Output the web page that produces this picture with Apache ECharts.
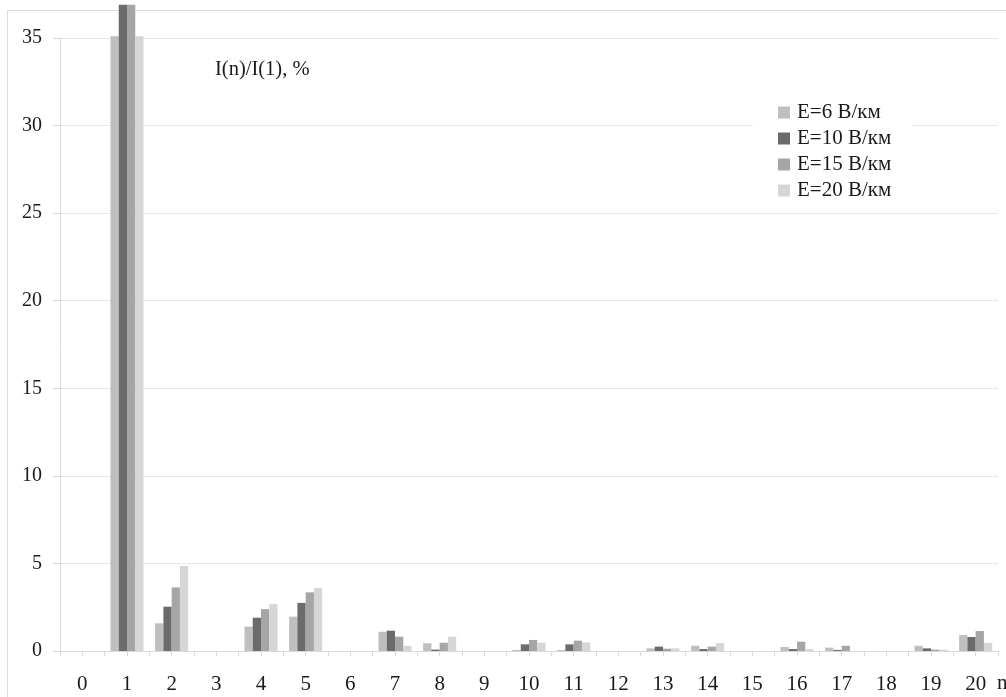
<!DOCTYPE html>
<html>
<head>
<meta charset="utf-8">
<script src="https://cdn.jsdelivr.net/npm/echarts@6/dist/echarts.min.js"></script>
<style>
html,body{margin:0;padding:0;background:#fff;}
#c{width:1006px;height:697px;}
</style>
</head>
<body>
<div id="c"></div>
<script>
const categories = ['0','1','2','3','4','5','6','7','8','9','10','11','12','13','14','15','16','17','18','19','20'];
const seriesNames = ['E=6 В/км','E=10 В/км','E=15 В/км','E=20 В/км'];
const e6  = [0, 35.1, 1.58, 0, 1.39, 1.96, 0, 1.10, 0.44, 0, 0.06, 0.06, 0, 0.15, 0.30, 0, 0.23, 0.19, 0, 0.30, 0.91];
const e10 = [0, 36.9, 2.53, 0, 1.90, 2.75, 0, 1.16, 0.08, 0, 0.38, 0.38, 0, 0.25, 0.11, 0, 0.11, 0.06, 0, 0.15, 0.80];
const e15 = [0, 36.9, 3.63, 0, 2.39, 3.35, 0, 0.82, 0.47, 0, 0.63, 0.59, 0, 0.13, 0.25, 0, 0.53, 0.30, 0, 0.08, 1.14];
const e20 = [0, 35.1, 4.85, 0, 2.68, 3.59, 0, 0.30, 0.82, 0, 0.47, 0.49, 0, 0.15, 0.45, 0, 0.11, 0.00, 0, 0.08, 0.46];
const yTicks = [0, 5, 10, 15, 20, 25, 30, 35];
const yLabel = 'I(n)/I(1), %';
const xName = 'n';

const colors = ['#bfbfbf', '#6b6b6b', '#a6a6a6', '#d6d6d6'];
const font = "'Liberation Serif', 'Times New Roman', serif";
const allData = [e6, e10, e15, e20];

const chart = echarts.init(document.getElementById('c'), null, {renderer: 'canvas'});
chart.setOption({
  animation: false,
  backgroundColor: '#ffffff',
  color: colors,
  textStyle: {fontFamily: font},
  grid: {left: 60, right: 8, top: 38, bottom: 46, containLabel: false},
  legend: {
    orient: 'vertical',
    left: 753, top: 95,
    padding: [7, 20, 7, 25],
    backgroundColor: '#ffffff',
    itemWidth: 12, itemHeight: 12, itemGap: 5,
    icon: 'rect',
    textStyle: {fontFamily: font, fontSize: 21, color: '#1a1a1a', lineHeight: 21, padding: [0,0,0,2]},
    data: seriesNames
  },
  xAxis: [{
    type: 'category',
    data: categories,
    position: 'bottom',
    axisLine: {lineStyle: {color: '#d9d9d9', width: 1}},
    axisTick: {show: true, alignWithLabel: false, length: 5, lineStyle: {color: '#d9d9d9'}},
    axisLabel: {fontFamily: font, fontSize: 21, color: '#1a1a1a', margin: 23, interval: 0},
    splitLine: {show: false}
  }, {
    type: 'category',
    data: categories,
    position: 'bottom',
    axisLine: {show: false},
    axisTick: {show: true, alignWithLabel: true, length: 5, interval: 0, lineStyle: {color: '#d9d9d9'}},
    axisLabel: {show: false},
    splitLine: {show: false}
  }],
  yAxis: {
    type: 'value',
    min: yTicks[0], max: yTicks[yTicks.length - 1], interval: 5,
    axisLine: {show: true, lineStyle: {color: '#d9d9d9'}},
    axisTick: {show: true, length: 7, lineStyle: {color: '#d9d9d9'}},
    axisLabel: {fontFamily: font, fontSize: 20, color: '#1a1a1a', margin: 18},
    splitLine: {show: true, lineStyle: {color: '#e8e8e8', width: 1}}
  },
  series: seriesNames.map((n, i) => ({
    name: n,
    type: 'bar',
    xAxisIndex: 0,
    data: allData[i],
    barGap: '0%',
    barCategoryGap: '26%',
    clip: false,
    itemStyle: {color: colors[i]}
  })),
  graphic: [
    {type: 'polyline', shape: {points: [[7.5, 697], [7.5, 10.5], [1006, 10.5]]}, style: {stroke: '#dcdcdc', lineWidth: 1, fill: null}, z: 0},
    {type: 'text', left: 215, top: 59, style: {text: yLabel, font: "20.5px " + font, fill: '#1a1a1a'}, z: 10},
    {type: 'text', left: 997, top: 673, style: {text: xName, font: "21px " + font, fill: '#1a1a1a'}, z: 10}
  ]
});
</script>
</body>
</html>
